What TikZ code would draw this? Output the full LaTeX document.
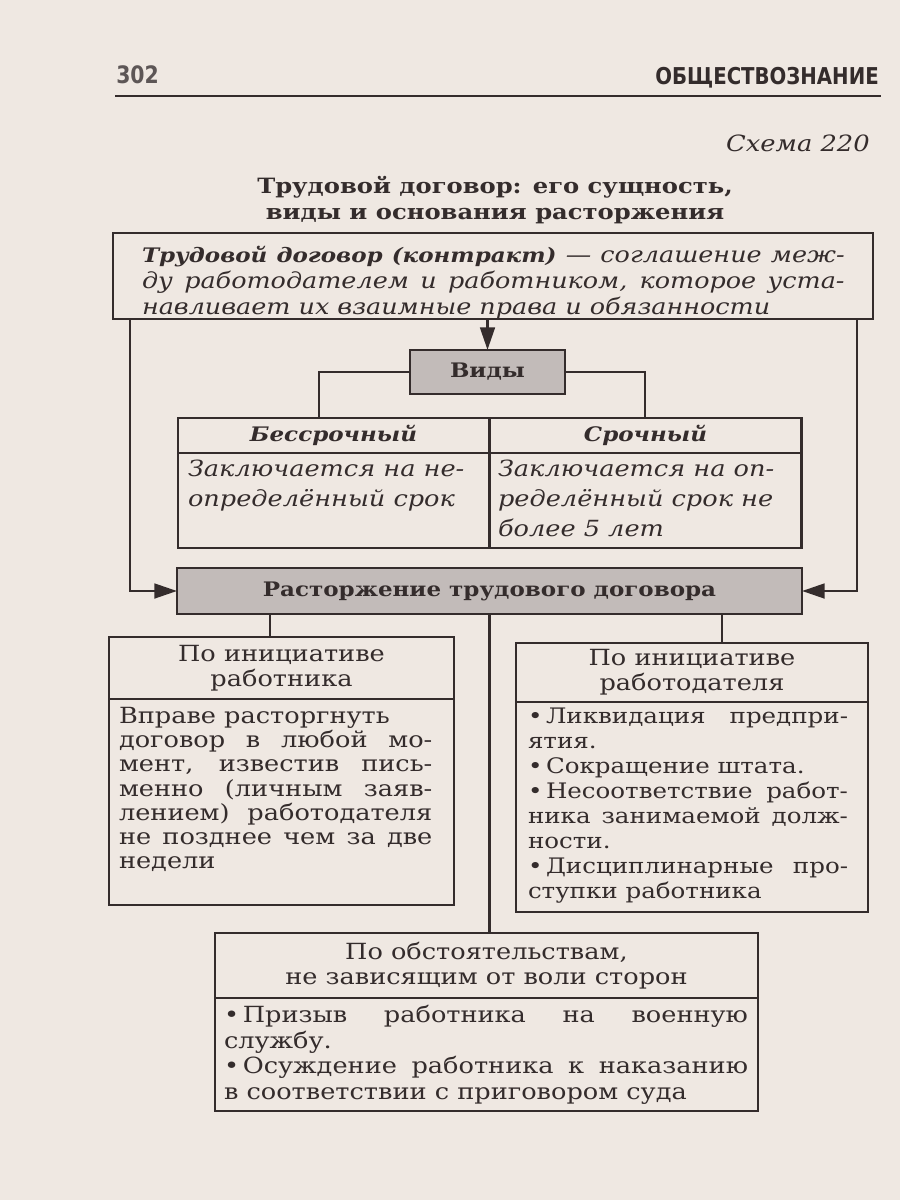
\documentclass[tikz,border=0pt]{standalone}
\usepackage{fontspec}
\setmainfont{DejaVu Serif}[FakeStretch=1.15]
\newfontfamily\hdrfont{DejaVu Sans}[FakeStretch=0.85]
\usetikzlibrary{arrows.meta,calc}
\definecolor{paper}{RGB}{239,232,226}
\definecolor{ink}{RGB}{52,44,44}
\definecolor{shade}{RGB}{194,187,185}
\newcommand\jl[2]{\makebox[#1][s]{#2}}
\newcommand\bfs{\fontsize{15}{18.75}\selectfont\bfseries}
\begin{document}
\begin{tikzpicture}[x=0.75pt,y=-0.75pt,
  box/.style={draw=ink,line width=2.2pt,inner sep=0pt,outer sep=0pt,text=ink,align=center,font=\fontsize{16.7}{18.75}\selectfont},
  shadebox/.style={box,fill=shade},
  conn/.style={draw=ink,line width=2.1pt},
  arr/.style={conn,-{Triangle[length=17pt,width=11pt]}},
  body/.style={inner sep=0pt,outer sep=0pt,text=ink,align=left,anchor=north west},
]
\fill[paper] (0,0) rectangle (900,1200);
\useasboundingbox (0,0) rectangle (900,1200);
% header
\node[anchor=west,inner sep=0pt,font=\hdrfont\bfseries\fontsize{18}{20}\selectfont,text=ink!80] (pg) at (116,75) {302};
\node[anchor=east,inner sep=0pt,font=\hdrfont\bfseries\fontsize{17.4}{20}\selectfont,text=ink] (sec) at (879,78) {ОБЩЕСТВОЗНАНИЕ};
\coordinate (r1) at (115,96);
\coordinate (r2) at (881,96);
\draw[ink,line width=2.2pt] (r1) -- (r2);
\node[anchor=east,inner sep=0pt,text=ink,font=\itshape\fontsize{16.8}{20}\selectfont] (sch) at (870,143) {Схема 220};
\node[inner sep=0pt,text=ink,align=center,font=\bfseries\fontsize{15.8}{19.5}\selectfont] (title) at (495,200) {Трудовой договор: его сущность,\\виды и основания расторжения};
% boxes
\node[box,minimum width=570pt,minimum height=64.5pt] (top) at (493,276) {};
\node[body,font=\itshape\fontsize{16.6}{19.5}\selectfont] (tt) at (142,246) {%
\jl{527pt}{{\bfs\itshape Трудовой договор (контракт)} — соглашение меж-}\\
\jl{527pt}{ду работодателем и работником, которое уста-}\\
навливает их взаимные права и обязанности};
\node[shadebox,minimum width=116.25pt,minimum height=33pt,font=\bfs] (vidy) at (487.5,372) {Виды};
\node[box,minimum width=233.25pt,minimum height=26.25pt,font=\bfs\itshape] (bsh) at (333.5,435.5) {Бессрочный};
\node[box,minimum width=234pt,minimum height=26.25pt,font=\bfs\itshape] (srh) at (645.5,435.5) {Срочный};
\node[box,minimum width=233.25pt,minimum height=71.25pt] (bsb) at (333.5,500.5) {};
\node[box,minimum width=234pt,minimum height=71.25pt] (srb) at (645.5,500.5) {};
\node[body,font=\itshape\fontsize{16.7}{22.5}\selectfont] (bst) at (188,460) {Заключается на не-\\определённый срок};
\node[body,font=\itshape\fontsize{16.7}{22.5}\selectfont] (srt) at (498,460) {Заключается на оп-\\ределённый срок не\\более 5 лет};
\node[shadebox,minimum width=468.75pt,minimum height=34.5pt,font=\bfs] (rast) at (489.5,591) {Расторжение трудового договора};
\node[box,minimum width=258.75pt,minimum height=46.5pt] (lh) at (281.5,668) {По инициативе\\работника};
\node[box,minimum width=258.75pt,minimum height=154.5pt] (lb) at (281.5,802) {};
\node[body,font=\fontsize{16.7}{18.2}\selectfont] (lbt) at (119,707) {%
Вправе расторгнуть\\
\jl{235pt}{договор в любой мо-}\\
\jl{235pt}{мент, известив пись-}\\
\jl{235pt}{менно (личным заяв-}\\
\jl{235pt}{лением) работодателя}\\
\jl{235pt}{не позднее чем за две}\\
недели};
\node[box,minimum width=264pt,minimum height=44.25pt] (rh) at (692,672.5) {По инициативе\\работодателя};
\node[box,minimum width=264pt,minimum height=157.5pt] (rb) at (692,807) {};
\node[body,font=\fontsize{16}{18.75}\selectfont] (rbt) at (528,708) {%
\jl{240pt}{•\,Ликвидация предпри-}\\
ятия.\\
•\,Сокращение штата.\\
\jl{240pt}{•\,Несоответствие работ-}\\
\jl{240pt}{ника занимаемой долж-}\\
ности.\\
\jl{240pt}{•\,Дисциплинарные про-}\\
ступки работника};
\node[box,minimum width=407.25pt,minimum height=48.75pt] (bh) at (486.5,965.5) {По обстоятельствам,\\не зависящим от воли сторон};
\node[box,minimum width=407.25pt,minimum height=84.75pt] (bb) at (486.5,1054.5) {};
\node[body,font=\fontsize{16.7}{19.3}\selectfont] (bbt) at (224,1005) {%
\jl{393pt}{•\,Призыв работника на военную}\\
службу.\\
\jl{393pt}{•\,Осуждение работника к наказанию}\\
в соответствии с приговором суда};
% connectors
\coordinate (lx) at (130,0);
\coordinate (rx) at (857,0);
\coordinate (c1) at (270,0);
\coordinate (c2) at (722,0);
\coordinate (vl) at (319,0);
\coordinate (vr) at (645,0);
\draw[arr] (top.south -| vidy.north) -- (vidy.north);
\draw[arr] (top.south -| lx) |- (rast.west);
\draw[arr] (top.south -| rx) |- (rast.east);
\draw[conn] (vidy.west) -| (bsh.north -| vl);
\draw[conn] (vidy.east) -| (srh.north -| vr);
\draw[conn] (rast.south -| c1) -- (lh.north -| c1);
\draw[conn] (rast.south -| c2) -- (rh.north -| c2);
\draw[conn] (rast.south) -- (rast.south |- bh.north);
\end{tikzpicture}
\end{document}
